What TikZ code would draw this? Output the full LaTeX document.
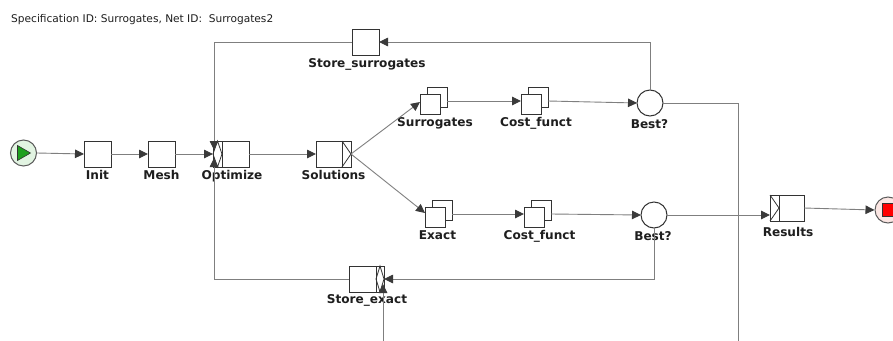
\documentclass[tikz,border=0pt]{standalone}
\usepackage{fontspec}
\setmainfont{DejaVu Sans}
\usetikzlibrary{arrows.meta,calc}

\definecolor{flowc}{HTML}{7F7F7F}
\definecolor{tipc}{HTML}{3A3A3A}
\definecolor{boxc}{HTML}{333333}
\definecolor{txtc}{HTML}{1E1E1E}
\definecolor{startfill}{HTML}{E2F4E2}
\definecolor{startmark}{HTML}{1FA01F}
\definecolor{endfill}{HTML}{FBE6E3}

\tikzset{
  task/.style={draw=boxc, line width=1pt, fill=white, rectangle,
    minimum width=27pt, minimum height=26pt, inner sep=0pt, outer sep=0pt},
  mitask/.style={task, minimum width=20pt, minimum height=20pt},
  cond/.style={draw=boxc, line width=1pt, fill=white, circle,
    minimum size=26pt, inner sep=0pt, outer sep=0pt},
  lbl/.style={font=\bfseries\fontsize{12.1}{13}\selectfont, text=txtc,
    anchor=base, inner sep=0pt},
  hdr/.style={font=\fontsize{10.6}{12}\selectfont, text=txtc,
    anchor=base west, inner sep=0pt},
  deco/.style={draw=boxc, line width=0.8pt},
  flowline/.style={draw=flowc, line width=0.9pt},
  arr/.style={flowline, -{Triangle[length=9pt,width=8.5pt,color=tipc]}},
}

\begin{document}
\begin{tikzpicture}[x=1pt,y=-1pt]
\clip (0,0) rectangle (893,340);
\fill[white] (0,0) rectangle (893,340);

% heading
\node[hdr] (title) at (11,22) {Specification ID: Surrogates, Net ID:~ Surrogates2};

% input and output conditions
\node[draw=boxc!80, line width=1pt, fill=startfill, circle, minimum size=26pt,
  inner sep=0pt] (start) at (23.5,153) {};
\fill[startmark, draw=boxc, line width=0.6pt] ($(start)+(-6,-7.5)$) -- ($(start)+(7,0)$)
  -- ($(start)+(-6,7.5)$) -- cycle;
\node[draw=boxc!80, line width=1pt, fill=endfill, circle, minimum size=26pt,
  inner sep=0pt] (end) at (888,210) {};
\fill[red, draw=boxc, line width=0.6pt] ($(end)+(-6,-7)$) rectangle ($(end)+(7,6)$);

% atomic tasks
\node[task] (init) at (97.5,154) {};
\node[task] (mesh) at (161.5,154) {};
\node[task, minimum width=36pt] (opt) at (231,154) {};
\node[task, minimum width=35pt] (sol) at (333.5,154) {};
\node[task, minimum width=34pt] (res) at (787,208) {};
\node[task] (stsur) at (365.5,42) {};
\node[task, minimum width=35pt] (stex) at (366.5,279) {};

% join / split decorators
\draw[deco] ($(opt.north west)+(9,0)$) -- ($(opt.south west)+(9,0)$);
\draw[deco] ($(opt.north west)+(4.5,0)$) -- ($(opt.west)+(9,0)$)
  -- ($(opt.south west)+(4.5,0)$) -- (opt.west) -- cycle;
\draw[deco] ($(sol.north east)+(-9,0)$) -- ($(sol.south east)+(-9,0)$);
\draw[deco] ($(sol.north east)+(-9,0)$) -- (sol.east) -- ($(sol.south east)+(-9,0)$);
\draw[deco] ($(res.north west)+(9,0)$) -- ($(res.south west)+(9,0)$);
\draw[deco] (res.north west) -- ($(res.west)+(9,0)$) -- (res.south west);
\draw[deco] ($(stex.north east)+(-8,0)$) -- ($(stex.south east)+(-8,0)$);
\draw[deco] ($(stex.north east)+(-4,0)$) -- (stex.east)
  -- ($(stex.south east)+(-4,0)$) -- ($(stex.east)+(-8,0)$) -- cycle;

% multiple-instance tasks
\node[mitask] (surb) at (437,97) {};
\node[mitask] (sur)  at (430,104) {};
\node[mitask] (cf1b) at (538,97) {};
\node[mitask] (cf1)  at (531,104) {};
\node[mitask] (exb)  at (442,210) {};
\node[mitask] (ex)   at (435,217) {};
\node[mitask] (cf2b) at (541,210) {};
\node[mitask] (cf2)  at (534,217) {};

% conditions
\node[cond] (b1) at (650,103) {};
\node[cond] (b2) at (654,215) {};

% labels
\node[lbl] (linit) at (97.5,179) {Init};
\node[lbl] (lmesh) at (161.5,179) {Mesh};
\node[lbl] (lopt)  at (232,179) {Optimize};
\node[lbl] (lsol)  at (333.5,179) {Solutions};
\node[lbl] (lstsur) at (367,67) {Store\_surrogates};
\node[lbl] (lsur)  at (435,126) {Surrogates};
\node[lbl] (lcf1)  at (536,126) {Cost\_funct};
\node[lbl] (lb1)   at (649.5,128) {Best?};
\node[lbl] (lex)   at (437.5,239.5) {Exact};
\node[lbl] (lcf2)  at (539.5,239.5) {Cost\_funct};
\node[lbl] (lb2)   at (653,240.5) {Best?};
\node[lbl] (lres)  at (788,236) {Results};
\node[lbl] (lstex) at (367,303) {Store\_exact};

% loose ends leaving the drawing
\coordinate (out1) at (738,345);
\coordinate (in2) at (383,345);

% flows
\draw[arr] (start.east) -- (init.west);
\draw[arr] (init) -- (mesh);
\draw[arr] (mesh) -- (opt);
\draw[arr] (stsur.west) -| ($(opt.west)+(1,-4)$);
\draw[arr] (stex.west) -| ($(opt.west)+(1,4)$);
\draw[arr] (opt) -- (sol);
\draw[arr] (sol.east) -- ($(sur.west)+(0,-2)$);
\draw[arr] (sol.east) -- ($(ex.west)+(0,-4)$);
\draw[arr] ($(surb.east)+(0,4)$) -- ($(cf1.west)+(0,-3)$);
\draw[arr] ($(cf1b.east)+(0,4)$) -- (b1.west);
\draw[arr] ($(exb.east)+(0,4)$) -- ($(cf2.west)+(0,-3)$);
\draw[arr] ($(cf2b.east)+(0,4)$) -- (b2.west);
\draw[arr] (b2.east) -- (b2.east -| res.west);
\draw[arr] (res.east) -- (end.west);
\draw[arr] (b1.north) |- (stsur.east);
\draw[flowline] (b1.east) -| (out1);
\draw[arr] (b2.south) |- (stex.east);
\draw[arr] (in2) -- ($(stex.east)+(-1,5)$);
\end{tikzpicture}
\end{document}
